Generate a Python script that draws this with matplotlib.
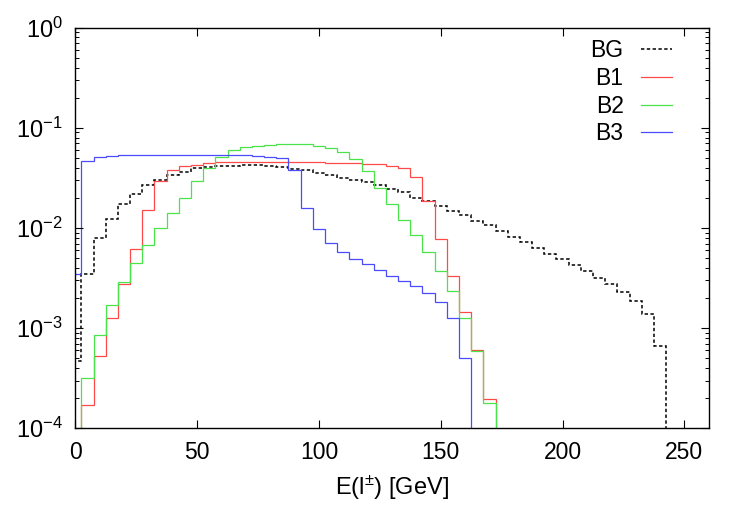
import numpy as np
import matplotlib
matplotlib.use("Agg")
import matplotlib.pyplot as plt
from matplotlib.lines import Line2D
from matplotlib.ticker import MultipleLocator, LogLocator, NullFormatter

plt.rcParams['font.family'] = ['Liberation Sans', 'DejaVu Sans']
plt.rcParams['mathtext.fontset'] = 'custom'
plt.rcParams['mathtext.rm'] = 'Liberation Sans'
plt.rcParams['mathtext.it'] = 'Liberation Sans:italic'
plt.rcParams['mathtext.bf'] = 'Liberation Sans:bold'

# bin centres in GeV (5 GeV bins), gnuplot histeps style
bin_centres = np.arange(0, 250, 5)

bg = [4.75e-4, 3.5e-3, 7.9e-3, 0.0124, 0.0173, 0.0217, 0.0270, 0.0302, 0.0339, 0.0365,
      0.0393, 0.0405, 0.0415, 0.0420, 0.0424, 0.0424, 0.0414, 0.0408, 0.0392, 0.0378,
      0.0357, 0.0341, 0.0318, 0.0302, 0.0286, 0.0270, 0.0246, 0.0228, 0.0201, 0.0186,
      0.0166, 0.0148, 0.0135, 0.0118, 0.0106, 0.00933, 0.00813, 0.00724, 0.0063, 0.00553,
      0.0049, 0.00427, 0.00372, 0.00316, 0.00274, 0.00227, 0.00187, 0.00139, 6.6e-4, 0]

b1 = [0, 1.69e-4, 5.3e-4, 1.26e-3, 2.77e-3, 6.2e-3, 0.0153, 0.0295, 0.0378, 0.0414,
      0.0430, 0.0446, 0.0452, 0.0458, 0.0460, 0.0460, 0.0460, 0.0458, 0.0456, 0.0454,
      0.0452, 0.0450, 0.0448, 0.0447, 0.0437, 0.0431, 0.0418, 0.0393, 0.0322, 0.0186,
      0.0077, 0.0033, 0.00145, 6.0e-4, 1.97e-4] + [0] * 15

b2 = [0, 3.2e-4, 8.6e-4, 1.71e-3, 2.88e-3, 4.47e-3, 6.8e-3, 9.9e-3, 0.0141, 0.0201,
      0.0294, 0.0393, 0.0506, 0.0598, 0.0646, 0.0665, 0.0681, 0.0688, 0.0690, 0.0688,
      0.0660, 0.0635, 0.0575, 0.0494, 0.0369, 0.0253, 0.0175, 0.0121, 0.00845, 0.00575,
      0.00372, 0.00233, 0.00126, 5.9e-4, 1.78e-4] + [0] * 15

b3 = [3.5e-3, 0.0465, 0.0513, 0.0525, 0.0530, 0.0530, 0.0535, 0.0537, 0.0537, 0.0537,
      0.0537, 0.0537, 0.0537, 0.0535, 0.0530, 0.0525, 0.0515, 0.0500, 0.0378, 0.0160,
      0.0097, 0.00708, 0.00575, 0.00494, 0.00434, 0.00377, 0.00331, 0.00295, 0.00262, 0.00224,
      0.00182, 0.00126, 5.06e-4] + [0] * 17

labels = ["BG", "B1", "B2", "B3"]
colors = ["black", "#ff4a4a", "#4ae44a", "#4a4aff"]

FLOOR = 1e-9  # empty bins sit below the axis, like gnuplot dropping to zero
BG_DASH = (0, (2.2, 1.6))

fig = plt.figure(figsize=(7.5, 5.25), dpi=100)
ax = fig.add_axes([0.1004, 0.1842, 0.8445, 0.763])

edges = np.append(bin_centres - 2.5, bin_centres[-1] + 2.5)
handles = []
for vals, lab, col in zip([bg, b1, b2, b3], labels, colors):
    v = np.array(vals, dtype=float)
    v[v <= 0] = FLOOR
    if lab == "BG":
        ax.stairs(v, edges, baseline=FLOOR, color=col, lw=1.1, linestyle=BG_DASH)
        handles.append(Line2D([], [], color=col, lw=1.1, linestyle=BG_DASH))
    else:
        ax.stairs(v, edges, baseline=FLOOR, color=col, lw=0.9)
        handles.append(Line2D([], [], color=col, lw=0.9))

ax.set_yscale("log")
ax.set_ylim(1e-4, 1)
ax.set_xlim(0, 260)
ax.xaxis.set_major_locator(MultipleLocator(50))
ax.yaxis.set_major_locator(LogLocator(base=10, numticks=10))
ax.yaxis.set_minor_locator(LogLocator(base=10, subs=np.arange(2, 10), numticks=20))
ax.yaxis.set_minor_formatter(NullFormatter())

ax.tick_params(which="both", direction="in", top=True, right=True)
ax.tick_params(axis="x", labelsize=16.5)
ax.tick_params(axis="y", labelsize=17)
ax.tick_params(which="major", length=5.5, width=0.8, pad=9)
ax.tick_params(which="minor", length=3, width=0.7)
for s in ax.spines.values():
    s.set_linewidth(1.0)

ax.set_xlabel(r"E(l$^{\pm}$) [GeV]", fontsize=17, labelpad=7)

leg = ax.legend(handles, labels, loc="upper right", bbox_to_anchor=(0.8955, 0.925),
                bbox_transform=fig.transFigure, frameon=False, markerfirst=False,
                fontsize=16.5, handlelength=1.35, handletextpad=0.75, labelspacing=0.2,
                borderpad=0, borderaxespad=0)

fig.savefig("out.png", dpi=100)
